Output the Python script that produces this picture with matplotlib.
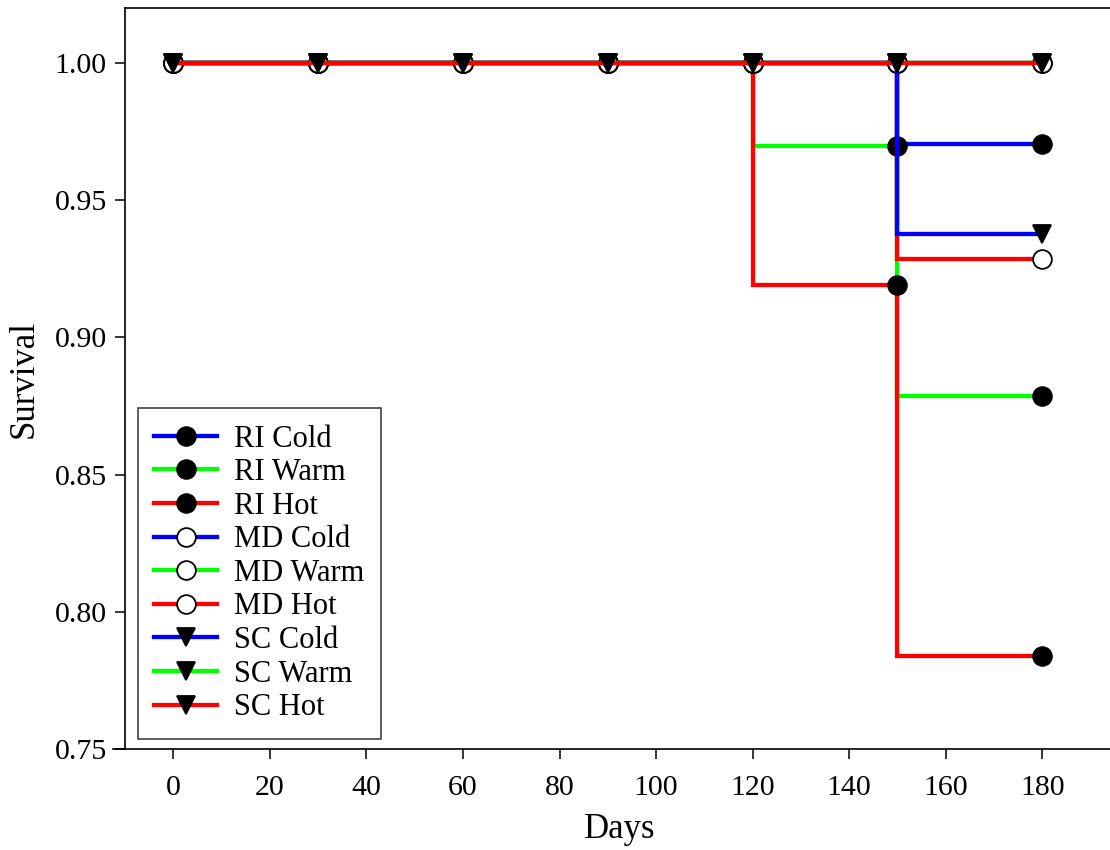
import numpy as np
import matplotlib
matplotlib.use("Agg")
import matplotlib.pyplot as plt
from matplotlib.lines import Line2D
from matplotlib.ticker import FormatStrFormatter

plt.rcParams['font.family'] = ['Liberation Serif', 'DejaVu Serif']

# Kaplan-Meier survival, sampled every 30 days
days = [0, 30, 60, 90, 120, 150, 180]

ri_cold = [1.0, 1.0, 1.0, 1.0, 1.0, 0.9706, 0.9706]
ri_warm = [1.0, 1.0, 1.0, 1.0, 0.9697, 0.8788, 0.8788]
ri_hot = [1.0, 1.0, 1.0, 1.0, 0.9189, 0.7838, 0.7838]
md_cold = [1.0, 1.0, 1.0, 1.0, 1.0, 1.0, 1.0]
md_warm = [1.0, 1.0, 1.0, 1.0, 1.0, 1.0, 1.0]
md_hot = [1.0, 1.0, 1.0, 1.0, 1.0, 0.9286, 0.9286]
sc_cold = [1.0, 1.0, 1.0, 1.0, 1.0, 0.9375, 0.9375]
sc_warm = [1.0, 1.0, 1.0, 1.0, 1.0, 1.0, 1.0]
sc_hot = [1.0, 1.0, 1.0, 1.0, 1.0, 1.0, 1.0]

labels = ['RI Cold', 'RI Warm', 'RI Hot', 'MD Cold', 'MD Warm', 'MD Hot',
          'SC Cold', 'SC Warm', 'SC Hot']
series = [ri_cold, ri_warm, ri_hot, md_cold, md_warm, md_hot,
          sc_cold, sc_warm, sc_hot]

colors = ['#0000ff', '#00ff00', '#ff0000'] * 3
markers = ['o'] * 6 + ['v'] * 3
faces = ['black'] * 3 + ['white'] * 3 + ['black'] * 3
msize = 13.5

fig = plt.figure(figsize=(11.1, 8.5), dpi=100)
x0, x1 = -10, 195
px_per_day = (1042 - 173) / 180.0
left = 125 / 1110.0
width = (x1 - x0) * px_per_day / 1110.0
ax = fig.add_axes([left, 101 / 850.0, width, 741 / 850.0])

handles = []
for i, (lab, s) in enumerate(zip(labels, series)):
    s = np.asarray(s)
    # symbols sit at the level just before each step
    mk_y = np.r_[s[0], s[:-2], s[-1]]
    z = 3 + i
    ax.step(days, s, where='post', color=colors[i], lw=3.1, zorder=z,
            solid_joinstyle='miter')
    ax.plot(days, mk_y, ls='none', marker=markers[i], ms=msize,
            mfc=faces[i], mec='black', mew=1.3, zorder=z)
    handles.append(Line2D([], [], color=colors[i], lw=3.1, marker=markers[i],
                          ms=msize, mfc=faces[i], mec='black', mew=1.3))

ax.set_xlim(x0, x1)
ax.set_ylim(0.75, 1.02)
ax.set_xticks(np.arange(0, 181, 20))
ax.set_yticks([0.75, 0.80, 0.85, 0.90, 0.95, 1.00])
ax.yaxis.set_major_formatter(FormatStrFormatter('%.2f'))

for side in ['left', 'top', 'bottom']:
    ax.spines[side].set_linewidth(1.2)
ax.spines['right'].set_visible(False)
# bottom axis line runs a little past the left axis
ax.plot([-0.012, 0], [0, 0], transform=ax.transAxes, color='black',
        lw=1.2, clip_on=False)

ax.tick_params(axis='both', direction='out', length=7, width=1.1,
               labelsize=21.5, colors='black')
ax.tick_params(axis='x', pad=12)
ax.tick_params(axis='y', pad=6)

ax.set_xlabel('Days', fontsize=25, labelpad=8)
ax.set_ylabel('Survival', fontsize=25, labelpad=10)

leg = ax.legend(handles, labels, loc='lower left',
                bbox_to_anchor=(13 / 1013.6, 10 / 741.0), borderaxespad=0,
                fontsize=22, frameon=True, fancybox=False, edgecolor='black',
                handlelength=2.05, handletextpad=0.55, labelspacing=0.15,
                borderpad=0.55)
leg.get_frame().set_linewidth(1.1)

fig.savefig('out.png', dpi=100)
